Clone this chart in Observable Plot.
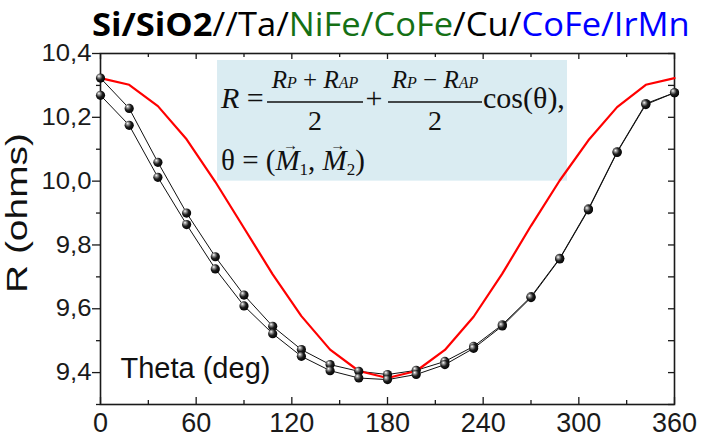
<!DOCTYPE html>
<html><head><meta charset="utf-8">
<script src="https://cdn.jsdelivr.net/npm/d3@7"></script>
<script src="https://cdn.jsdelivr.net/npm/@observablehq/plot@0.6"></script>
<style>body{margin:0;background:#fff} svg{display:block}</style>
</head><body><div id="chart"></div>
<script>
// ---- data ----
const angles = [0,18,36,54,72,90,108,126,144,162,180,198,216,234,252,270,288,306,324,342,360];
const redR = [10.323,10.302,10.235,10.131,9.998,9.853,9.708,9.577,9.472,9.405,9.383,9.405,9.471,9.575,9.710,9.860,10.002,10.128,10.232,10.302,10.323];
const sweepUp = [10.323,10.228,10.059,9.900,9.763,9.643,9.545,9.472,9.425,9.404,9.394,9.407,9.435,9.482,9.550,9.638,9.758,9.913,10.092,10.243,10.277];
const sweepDown = [10.269,10.175,10.012,9.864,9.725,9.609,9.522,9.451,9.406,9.383,9.378,9.394,9.425,9.476,9.546,9.635,9.756,9.910,10.090,10.240,10.277];
const xTicks = [0,60,120,180,240,300,360];
const xMinor = [30,90,150,210,270,330];
const yTicks = [9.4,9.6,9.8,10.0,10.2,10.4];
const yMinor = [9.3,9.5,9.7,9.9,10.1,10.3];
const formulaBox = [{x1: 73.4, x2: 292.9, y1: 10.0, y2: 10.378}];
const titleParts = [
  {t: "Si/SiO2", c: "#000000", w: "bold"},
  {t: "//Ta/", c: "#000000", w: "normal"},
  {t: "NiFe/CoFe", c: "#157015", w: "normal"},
  {t: "/Cu/", c: "#000000", w: "normal"},
  {t: "CoFe/IrMn", c: "#0000ff", w: "normal"}
];
const xLabel = "Theta (deg)";
const yLabel = "R (ohms)";

// ---- tables ----
const red = angles.map((a, i) => ({a, r: redR[i]}));
const black = [
  ...angles.map((a, i) => ({a, r: sweepUp[i], s: "up"})),
  ...angles.map((a, i) => ({a, r: sweepDown[i], s: "down"}))
];

const W = 702, H = 440, mL = 100, mR = 28, mT = 53, mB = 36;
const innerW = W - mL - mR, innerH = H - mT - mB;
const ink = "#1a1a1a";

const plot = Plot.plot({
  width: W, height: H,
  marginLeft: mL, marginRight: mR, marginTop: mT, marginBottom: mB,
  style: {fontFamily: "'Liberation Sans', Arial, sans-serif", background: "#ffffff", color: ink},
  x: {domain: [0, 360]},
  y: {domain: [9.3, 10.4]},
  marks: [
    Plot.rect(formulaBox, {x1: "x1", x2: "x2", y1: "y1", y2: "y2", fill: "#daecf2"}),
    Plot.axisX(xTicks, {anchor: "bottom", tickSize: 0, tickPadding: 8, fontSize: 27, label: null, tickFormat: d => String(d)}),
    Plot.ruleX(xTicks, {insetTop: innerH - 7, stroke: ink, strokeWidth: 1.3}),
    Plot.ruleX(xMinor, {insetTop: innerH - 4, stroke: ink, strokeWidth: 1.3}),
    Plot.ruleX(xTicks, {insetBottom: innerH - 6, stroke: ink, strokeWidth: 1.3}),
    Plot.ruleX(xMinor, {insetBottom: innerH - 4, stroke: ink, strokeWidth: 1.3}),
    Plot.axisY(yTicks, {anchor: "left", tickSize: 8, tickPadding: 1, fontSize: 24, label: null, strokeWidth: 1.3, tickFormat: d => d.toFixed(1).replace(".", ",")}),
    Plot.axisY(yMinor, {anchor: "left", tickSize: 4, label: null, strokeWidth: 1.3, tickFormat: () => ""}),
    Plot.ruleY(yTicks, {insetLeft: innerW - 6, stroke: ink, strokeWidth: 1.3}),
    Plot.ruleY(yMinor, {insetLeft: innerW - 6, stroke: ink, strokeWidth: 1.3}),
    Plot.frame({stroke: ink, strokeWidth: 1.6}),
    Plot.line(black, {x: "a", y: "r", z: "s", stroke: "#111", strokeWidth: 1}),
    Plot.line(red, {x: "a", y: "r", stroke: "#ff0000", strokeWidth: 2.2}),
    Plot.dot(black, {x: "a", y: "r", r: 4.6, fill: "url(#ball)", stroke: "none"}),
    Plot.text([xLabel], {text: d => d, frameAnchor: "bottom-left", dx: 20, dy: -27, lineAnchor: "bottom", textAnchor: "start", fontSize: 29, fill: "#111"}),
    Plot.text([yLabel], {text: d => d, frameAnchor: "left", rotate: -90, dx: -83, dy: -16, textAnchor: "middle", lineAnchor: "middle", fontSize: 29, fill: "#111"})
  ]
});
document.getElementById("chart").appendChild(plot);

const svg = d3.select(plot);
// sphere gradient
const defs = svg.insert("defs", ":first-child");
const grad = defs.append("radialGradient").attr("id", "ball")
  .attr("cx", "40%").attr("cy", "40%").attr("r", "65%").attr("fx", "32%").attr("fy", "28%");
grad.append("stop").attr("offset", "0%").attr("stop-color", "#ffffff");
grad.append("stop").attr("offset", "22%").attr("stop-color", "#9a9a9a");
grad.append("stop").attr("offset", "55%").attr("stop-color", "#1e1e1e");
grad.append("stop").attr("offset", "100%").attr("stop-color", "#000000");

// tick label sizes (reference labels are slightly wide)
svg.selectAll('g[aria-label="y-axis tick label"]').style("font-size", "24px");
svg.selectAll('g[aria-label="y-axis tick label"] text').each(function() {
  const w = this.getComputedTextLength();
  d3.select(this).attr("textLength", w * 1.07).attr("lengthAdjust", "spacingAndGlyphs");
});
svg.selectAll('g[aria-label="x-axis tick label"]').style("font-size", "27px");

// stretch y label as in the reference
svg.selectAll("text").filter(function() { return this.textContent === yLabel; })
  .attr("textLength", 160).attr("lengthAdjust", "spacingAndGlyphs");

// title
const title = svg.append("text").attr("x", 0).attr("y", 0).attr("text-anchor", "start")
  .attr("font-family", "'Open Sans', 'Noto Sans', sans-serif").attr("font-size", 32);
titleParts.forEach(p => title.append("tspan").attr("fill", p.c).attr("font-weight", p.w).text(p.t));
const tw = title.node().getComputedTextLength();
title.attr("transform", `translate(92,36) scale(${598 / tw},1)`);

// formula annotation inside the box
const sx = plot.scale("x"), sy = plot.scale("y");
const bx = sx.apply(formulaBox[0].x1), by = sy.apply(formulaBox[0].y2);
const g = svg.append("g").attr("transform", `translate(${bx},${by})`)
  .attr("font-family", "'Liberation Serif', 'Times New Roman', serif").attr("fill", "#111")
  .attr("text-anchor", "start");
const main = 30, num = 25, sub = 16;
const t1 = g.append("text").attr("x", 4).attr("y", 48).attr("font-size", main).attr("text-anchor", "start");
t1.append("tspan").attr("font-style", "italic").text("R");
t1.append("tspan").text(" = ");
function fraction(cx, left, right, sign) {
  g.append("line").attr("x1", left).attr("x2", right).attr("y1", 42).attr("y2", 42).attr("stroke", "#111").attr("stroke-width", 1.4);
  const n = g.append("text").attr("x", cx).attr("y", 28).attr("text-anchor", "middle").attr("font-size", num);
  n.append("tspan").attr("font-style", "italic").text("R");
  n.append("tspan").attr("font-style", "italic").attr("font-size", sub).text("P");
  n.append("tspan").text(` ${sign} `);
  n.append("tspan").attr("font-style", "italic").text("R");
  n.append("tspan").attr("font-style", "italic").attr("font-size", sub).text("AP");
  g.append("text").attr("x", cx).attr("y", 70).attr("text-anchor", "middle").attr("font-size", 28).text("2");
}
fraction(98, 50, 146, "+");
g.append("text").attr("x", 157).attr("y", 48).attr("text-anchor", "middle").attr("font-size", main).text("+");
fraction(218, 171, 265, "\u2212");
g.append("text").attr("x", 266).attr("y", 48).attr("font-size", main).attr("text-anchor", "start").text("cos(\u03b8),");
const t2 = g.append("text").attr("x", 4).attr("y", 110).attr("font-size", 29).attr("text-anchor", "start");
t2.append("tspan").text("\u03b8 = (");
t2.append("tspan").attr("font-style", "italic").text("M");
t2.append("tspan").attr("font-size", 17).attr("dy", 5).text("1");
t2.append("tspan").attr("dy", -5).text(", ");
t2.append("tspan").attr("font-style", "italic").text("M");
t2.append("tspan").attr("font-size", 17).attr("dy", 5).text("2");
t2.append("tspan").attr("dy", -5).text(")");
const node = t2.node();
const str = node.textContent;
[...str].forEach((ch, i) => {
  if (ch === "M") {
    const s = node.getStartPositionOfChar(i).x, e = node.getEndPositionOfChar(i).x;
    g.append("text").attr("x", (s + e) / 2 + 3).attr("y", 110 - 20).attr("text-anchor", "middle")
      .attr("font-size", 15).text("\u2192");
  }
});
</script></body></html>
